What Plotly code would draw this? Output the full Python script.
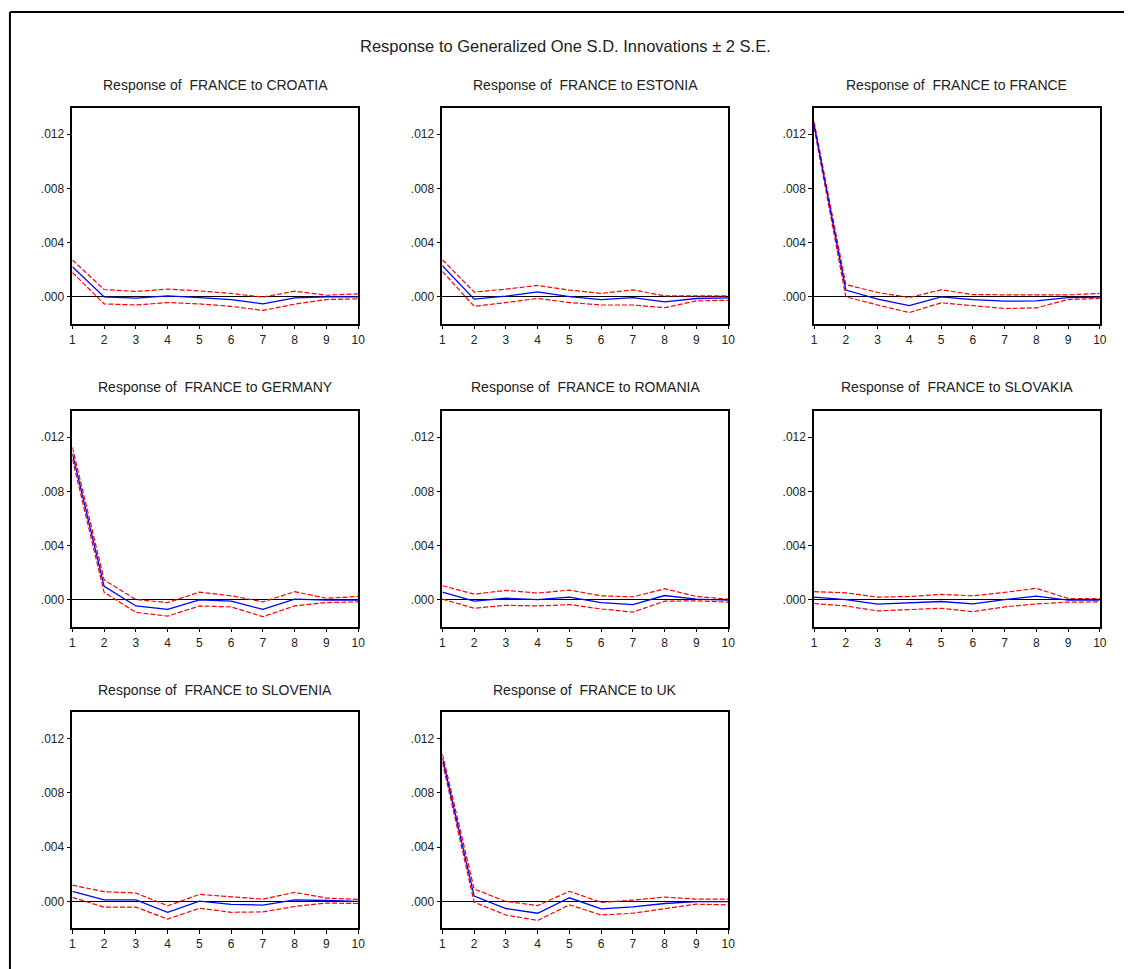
import plotly.graph_objects as go

# Horizons of the impulse responses
periods = list(range(1, 11))

shock_names = ["CROATIA", "ESTONIA", "FRANCE", "GERMANY",
               "ROMANIA", "SLOVAKIA", "SLOVENIA", "UK"]

# Response of FRANCE to each shock (point estimate)
resp_croatia = [0.00222, 0.0, -0.0001, 0.00007, -0.00005, -0.0002, -0.00052, -0.00007, 0.0, 0.0]
resp_estonia = [0.0023, -0.00017, 0.00005, 0.00037, 0.00002, -0.0002, -0.00005, -0.00037, -0.00012, -0.00007]
resp_france = [0.0127, 0.0005, -0.00017, -0.00064, 0.0, -0.0002, -0.00032, -0.0003, -0.00005, -0.00002]
resp_germany = [0.0108, 0.001, -0.00045, -0.0007, 0.0, -0.0001, -0.0007, 0.00005, -0.00002, -0.00002]
resp_romania = [0.00057, -0.0001, 0.00012, 0.00002, 0.0002, -0.0002, -0.00035, 0.00032, 0.00005, -0.00002]
resp_slovakia = [0.0002, 0.00002, -0.00032, -0.00022, -0.00012, -0.0003, 0.00002, 0.00027, -0.00002, -0.00002]
resp_slovenia = [0.00075, 0.00012, 0.00012, -0.0008, 0.00002, -0.00022, -0.00027, 0.00012, 0.00007, 0.0]
resp_uk = [0.01057, 0.0004, -0.00052, -0.00087, 0.00027, -0.00055, -0.0004, -0.00015, -0.00002, -0.00002]

# Upper band (+2 S.E.)
upper_croatia = [0.00272, 0.00054, 0.0004, 0.00057, 0.00044, 0.00025, -0.00002, 0.00042, 0.00012, 0.00022]
upper_estonia = [0.00274, 0.00035, 0.00057, 0.00084, 0.0005, 0.00025, 0.00052, 0.00007, 0.00007, 0.00007]
upper_france = [0.0129, 0.00091, 0.00032, -0.00005, 0.00052, 0.00017, 0.00015, 0.00017, 0.00015, 0.00025]
upper_germany = [0.01124, 0.00147, 0.00002, -0.0002, 0.00057, 0.0003, -0.00015, 0.0006, 0.00012, 0.00025]
upper_romania = [0.00104, 0.00042, 0.0007, 0.0005, 0.00072, 0.0003, 0.00022, 0.00082, 0.00025, 0.00005]
upper_slovakia = [0.0006, 0.00052, 0.0002, 0.00025, 0.0004, 0.0003, 0.00055, 0.00085, 0.0001, 0.0001]
upper_slovenia = [0.0012, 0.00072, 0.00062, -0.00032, 0.00052, 0.00035, 0.00017, 0.00067, 0.00025, 0.00015]
upper_uk = [0.01087, 0.00092, 0.0, -0.0003, 0.00075, -0.00007, 0.0001, 0.00032, 0.00017, 0.00017]

# Lower band (-2 S.E.)
lower_croatia = [0.0018, -0.00052, -0.0006, -0.00042, -0.00052, -0.0007, -0.001, -0.00054, -0.0002, -0.00015]
lower_estonia = [0.00188, -0.0007, -0.00042, -0.00012, -0.00042, -0.0006, -0.0006, -0.0008, -0.0003, -0.00025]
lower_france = [0.0125, 0.0, -0.0006, -0.00116, -0.00044, -0.00067, -0.00086, -0.00081, -0.0002, -0.00012]
lower_germany = [0.01037, 0.00055, -0.00092, -0.0012, -0.00045, -0.00052, -0.00124, -0.00045, -0.0002, -0.00015]
lower_romania = [0.00005, -0.00062, -0.0004, -0.00045, -0.00035, -0.00067, -0.0009, -0.0001, -0.00007, -0.00017]
lower_slovakia = [-0.00027, -0.00045, -0.00082, -0.00072, -0.00062, -0.00087, -0.00052, -0.0003, -0.00017, -0.00015]
lower_slovenia = [0.0003, -0.00042, -0.00042, -0.0013, -0.0005, -0.0008, -0.00077, -0.00037, -0.00012, -0.00015]
lower_uk = [0.01027, -0.00005, -0.001, -0.0014, -0.00025, -0.001, -0.00087, -0.00055, -0.0002, -0.00025]

responses = [resp_croatia, resp_estonia, resp_france, resp_germany,
             resp_romania, resp_slovakia, resp_slovenia, resp_uk]
uppers = [upper_croatia, upper_estonia, upper_france, upper_germany,
          upper_romania, upper_slovakia, upper_slovenia, upper_uk]
lowers = [lower_croatia, lower_estonia, lower_france, lower_germany,
          lower_romania, lower_slovakia, lower_slovenia, lower_uk]

y_tick_vals = [0.0, 0.004, 0.008, 0.012]
y_tick_text = [".000", ".004", ".008", ".012"]

W, H = 1131, 969
FONT = "Arial, 'Liberation Sans', sans-serif"

# Panel geometry in pixels
col_left = [70, 443.3, 818.3]
panel_w = 288.3
row_top = [107.7, 410.7, 712.3]
panel_h = 216
title_y = [85, 387, 690]

fig = go.Figure()

for i, name in enumerate(shock_names):
    r, c = divmod(i, 3)
    n = i + 1
    xa = "x" if n == 1 else f"x{n}"
    ya = "y" if n == 1 else f"y{n}"

    for band in (uppers[i], lowers[i]):
        fig.add_trace(go.Scatter(
            x=periods, y=band, mode="lines", xaxis=xa, yaxis=ya,
            line=dict(color="#ff0000", width=1.2, dash="5px,2px"),
            showlegend=False, hoverinfo="skip"))
    fig.add_trace(go.Scatter(
        x=periods, y=responses[i], mode="lines", xaxis=xa, yaxis=ya,
        line=dict(color="#0000ff", width=1.3),
        showlegend=False))

    x0 = col_left[c] / W
    x1 = (col_left[c] + panel_w) / W
    y1 = 1 - row_top[r] / H
    y0 = 1 - (row_top[r] + panel_h) / H

    axis_common = dict(showline=True, linecolor="black", linewidth=1.5,
                       mirror=True, showgrid=False, ticks="outside",
                       ticklen=4, tickwidth=1, tickcolor="black",
                       tickfont=dict(family=FONT, size=12, color="#222"))
    fig.layout[f"xaxis{'' if n == 1 else n}"] = dict(
        domain=[x0, x1], anchor=ya, range=[1, 10],
        tickvals=periods, ticktext=[str(p) for p in periods],
        zeroline=False, **axis_common)
    fig.layout[f"yaxis{'' if n == 1 else n}"] = dict(
        domain=[y0, y1], anchor=xa, range=[-0.00198, 0.01395],
        tickvals=y_tick_vals, ticktext=y_tick_text,
        zeroline=True, zerolinecolor="black", zerolinewidth=1,
        **axis_common)

    fig.add_annotation(
        text=f"Response of\u00a0 FRANCE to {name}",
        x=(col_left[c] + panel_w / 2) / W, y=1 - title_y[r] / H,
        xref="paper", yref="paper", showarrow=False,
        xanchor="center", yanchor="middle",
        font=dict(family=FONT, size=14, color="#222"))

fig.add_annotation(
    text="Response to Generalized One S.D. Innovations \u00b1 2 S.E.",
    x=568 / W, y=1 - 46 / H, xref="paper", yref="paper", showarrow=False,
    xanchor="center", yanchor="middle",
    font=dict(family=FONT, size=16.5, color="#222"))

# Outer frame (left and top edges)
fig.add_shape(type="line", xref="paper", yref="paper",
              x0=7 / W, x1=7 / W, y0=0, y1=1 - 12 / H,
              line=dict(color="black", width=2))
fig.add_shape(type="line", xref="paper", yref="paper",
              x0=7 / W, x1=1, y0=1 - 12 / H, y1=1 - 12 / H,
              line=dict(color="black", width=2))

fig.update_layout(
    width=W, height=H,
    margin=dict(l=0, r=0, t=0, b=0),
    paper_bgcolor="white", plot_bgcolor="white",
    showlegend=False,
)

fig.write_html("out.html")
